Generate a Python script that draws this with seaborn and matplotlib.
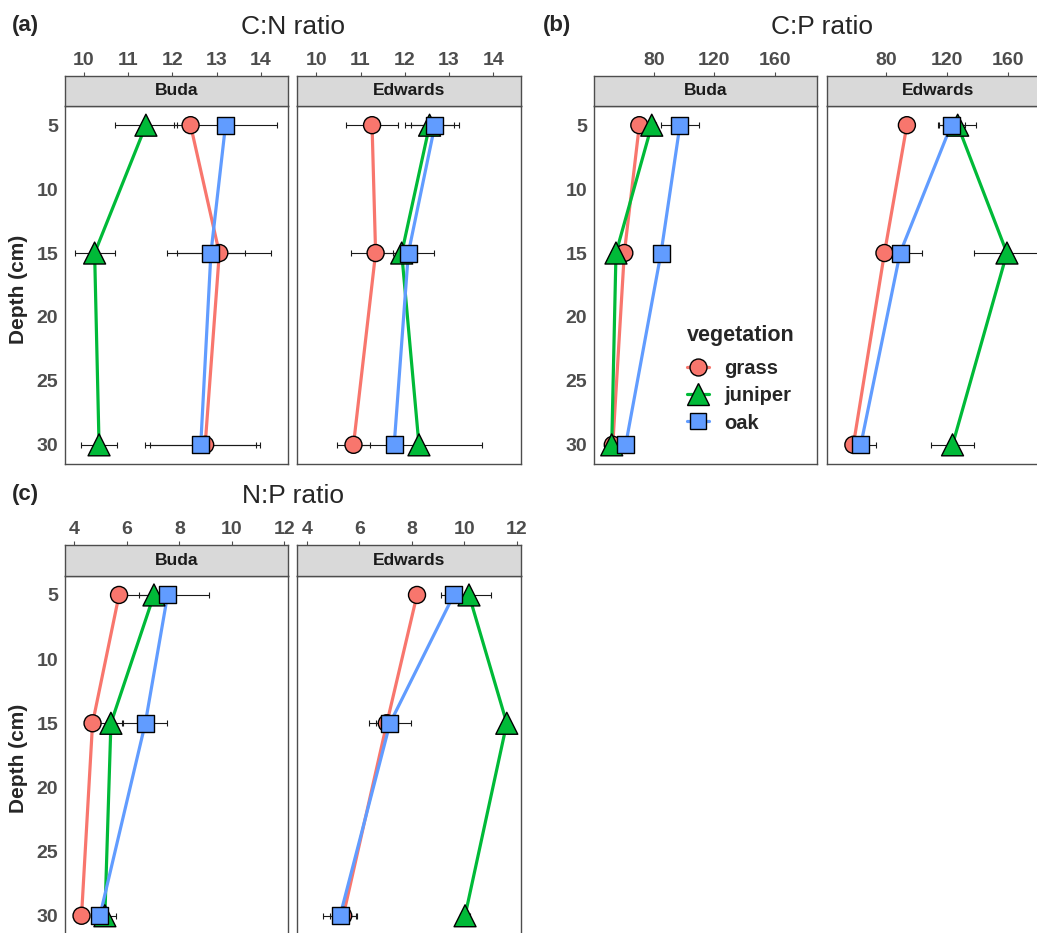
import numpy as np
import pandas as pd
import matplotlib
matplotlib.use("Agg")
import matplotlib.pyplot as plt
from matplotlib.lines import Line2D
import seaborn as sns

# ---- data (rows: grass, juniper, oak ; cols: depth 5, 15, 30)
depths = [5, 15, 30]
vegetation = ["grass", "juniper", "oak"]
sites = ["Buda", "Edwards"]

cn_buda = [[12.41, 13.06, 12.74], [11.40, 10.24, 10.34], [13.20, 12.87, 12.64]]
cn_buda_se = [[0.10, 1.18, 1.24], [0.70, 0.45, 0.40], [1.17, 0.77, 1.25]]
cn_edwards = [[11.26, 11.34, 10.84], [12.56, 11.93, 12.32], [12.68, 12.08, 11.76]]
cn_edwards_se = [[0.58, 0.55, 0.38], [0.56, 0.20, 1.42], [0.55, 0.57, 0.15]]

cp_buda = [[70.5, 60.6, 53.0], [78.7, 55.1, 52.3], [97.3, 84.8, 61.5]]
cp_buda_se = [[2.0, 2.0, 1.0], [3.0, 2.0, 2.0], [12.6, 3.0, 3.0]]
cp_edwards = [[93.5, 78.7, 58.2], [127.0, 159.5, 123.6], [122.7, 89.0, 63.1]]
cp_edwards_se = [[2.0, 2.0, 2.0], [12.0, 21.8, 14.3], [9.0, 14.2, 10.0]]

np_buda = [[5.70, 4.69, 4.27], [7.03, 5.39, 5.16], [7.55, 6.70, 4.97]]
np_buda_se = [[0.10, 0.10, 0.10], [0.57, 0.41, 0.42], [1.58, 0.84, 0.20]]
np_edwards = [[8.20, 7.05, 5.39], [10.18, 11.62, 10.03], [9.60, 7.17, 5.27]]
np_edwards_se = [[0.10, 0.41, 0.50], [0.83, 0.10, 0.20], [0.50, 0.80, 0.65]]

ratios = ["C:N ratio", "C:P ratio", "N:P ratio"]
panel_tags = ["(a)", "(b)", "(c)"]
xticks = {"C:N ratio": [10, 11, 12, 13, 14],
          "C:P ratio": [80, 120, 160],
          "N:P ratio": [4, 6, 8, 10, 12]}
xlims = {"C:N ratio": (9.57, 14.62), "C:P ratio": (40.6, 187.7), "N:P ratio": (3.64, 12.15)}

# long table
rows = []
tables = {("C:N ratio", "Buda"): (cn_buda, cn_buda_se),
          ("C:N ratio", "Edwards"): (cn_edwards, cn_edwards_se),
          ("C:P ratio", "Buda"): (cp_buda, cp_buda_se),
          ("C:P ratio", "Edwards"): (cp_edwards, cp_edwards_se),
          ("N:P ratio", "Buda"): (np_buda, np_buda_se),
          ("N:P ratio", "Edwards"): (np_edwards, np_edwards_se)}
for (ratio, site), (m, s) in tables.items():
    for i, veg in enumerate(vegetation):
        for j, d in enumerate(depths):
            rows.append(dict(ratio=ratio, site=site, vegetation=veg, depth=d, value=m[i][j], se=s[i][j]))
df = pd.DataFrame(rows)

pal = {"grass": "#F8766D", "juniper": "#00BA38", "oak": "#619CFF"}
marks = {"grass": "o", "juniper": "^", "oak": "s"}
msize = {"grass": 150, "juniper": 250, "oak": 150}

sns.set_style("white")
plt.rcParams["font.family"] = ["Liberation Sans", "DejaVu Sans"]

W, H = 1037, 933
fig = plt.figure(figsize=(W / 100, H / 100), dpi=100)


def box(x0, y0, x1, y1):
    # pixel box (top-left origin) -> figure fraction
    return [x0 / W, 1 - y1 / H, (x1 - x0) / W, (y1 - y0) / H]


# pixel layout per ratio: panel x spans per site, strip top, panel top, panel bottom, tag x
layout = {
    "C:N ratio": ([(65, 288.3), (297.3, 520.7)], 75.5, 106, 464, 12),
    "C:P ratio": ([(594, 817), (826.7, 1049.7)], 75.5, 106, 464, 543),
    "N:P ratio": ([(65, 288.3), (297.3, 520.7)], 545.2, 575.7, 935, 12),
}
border = "#4D4D4D"
tick_col = "#4D4D4D"

for k, ratio in enumerate(ratios):
    xs, ys0, yp0, yp1, tagx = layout[ratio]
    for si, site in enumerate(sites):
        x0, x1 = xs[si]
        ax = fig.add_axes(box(x0, yp0, x1, yp1))
        sax = fig.add_axes(box(x0, ys0, x1, yp0), sharex=ax)
        sub = df[(df.ratio == ratio) & (df.site == site)]

        ax.errorbar(sub["value"], sub["depth"], xerr=sub["se"], fmt="none",
                    ecolor="#1a1a1a", elinewidth=0.8, capsize=2.2, capthick=0.8, zorder=2)
        sns.lineplot(data=sub, x="value", y="depth", hue="vegetation", palette=pal,
                     orient="y", estimator=None, lw=2.3, legend=False, ax=ax, zorder=3)
        sns.scatterplot(data=sub, x="value", y="depth", hue="vegetation", palette=pal,
                        style="vegetation", markers=marks, size="vegetation", sizes=msize,
                        edgecolor="black", linewidth=1.0, legend=False, ax=ax, zorder=4)

        ax.set_xlim(*xlims[ratio])
        ax.set_ylim(31.5, 3.5)
        ax.set_yticks([5, 10, 15, 20, 25, 30])
        ax.set_xlabel("")
        ax.set_ylabel("")
        ax.tick_params(axis="x", which="both", bottom=False, top=False,
                       labelbottom=False, labeltop=False)
        if si == 0:
            ax.tick_params(axis="y", length=3.2, width=0.8, color=border, pad=1.8,
                           labelsize=14, labelcolor=tick_col)
            for t in ax.get_yticklabels():
                t.set_fontweight("bold")
        else:
            ax.tick_params(axis="y", left=False, labelleft=False)
        for sp in ax.spines.values():
            sp.set_color(border)
            sp.set_linewidth(1.0)

        # strip with the x axis on top
        sax.set_facecolor("#D9D9D9")
        sax.set_yticks([])
        sax.set_xticks(xticks[ratio])
        sax.xaxis.tick_top()
        sax.tick_params(axis="x", length=3.0, width=0.8, color=border, pad=2.0,
                        labelsize=14, labelcolor=tick_col, labelbottom=False)
        for t in sax.get_xticklabels():
            t.set_fontweight("bold")
        for sp in sax.spines.values():
            sp.set_color(border)
            sp.set_linewidth(1.0)
        sax.text(0.5, 0.5, site, transform=sax.transAxes, ha="center", va="center",
                 fontsize=12.5, fontweight="bold", color="#1a1a1a")

        if ratio == "C:P ratio" and site == "Buda":
            handles = [Line2D([], [], color=pal[v], lw=2.3, marker=marks[v],
                              markersize=15.5 if v == "juniper" else 12.2,
                              markerfacecolor=pal[v], markeredgecolor="black",
                              markeredgewidth=1.0) for v in vegetation]
            leg = ax.legend(handles, vegetation, title="vegetation", loc="upper left",
                            bbox_to_anchor=(673 / W, 1 - 311 / H), bbox_transform=fig.transFigure,
                            frameon=False, prop={"weight": "bold", "size": 14.5},
                            title_fontproperties={"weight": "bold", "size": 15.5},
                            alignment="left", handlelength=1.1, handletextpad=0.75,
                            labelspacing=0.42, borderpad=0.2)
            leg._legend_box.sep = 9

    # panel titles and tags
    cx = (xs[0][0] + xs[1][1]) / 2
    ty = ys0 - 49
    fig.text(cx / W, 1 - ty / H, ratio, ha="center", va="center", fontsize=19)
    fig.text(tagx / W, 1 - (ty - 1.5) / H, panel_tags[k], ha="left", va="center",
             fontsize=16, fontweight="bold")
    if ratio != "C:P ratio":
        fig.text(19 / W, 1 - (yp0 + 183) / H, "Depth (cm)",
                 rotation=90, ha="center", va="center", fontsize=15, fontweight="bold")

fig.savefig("out.png", dpi=100)
